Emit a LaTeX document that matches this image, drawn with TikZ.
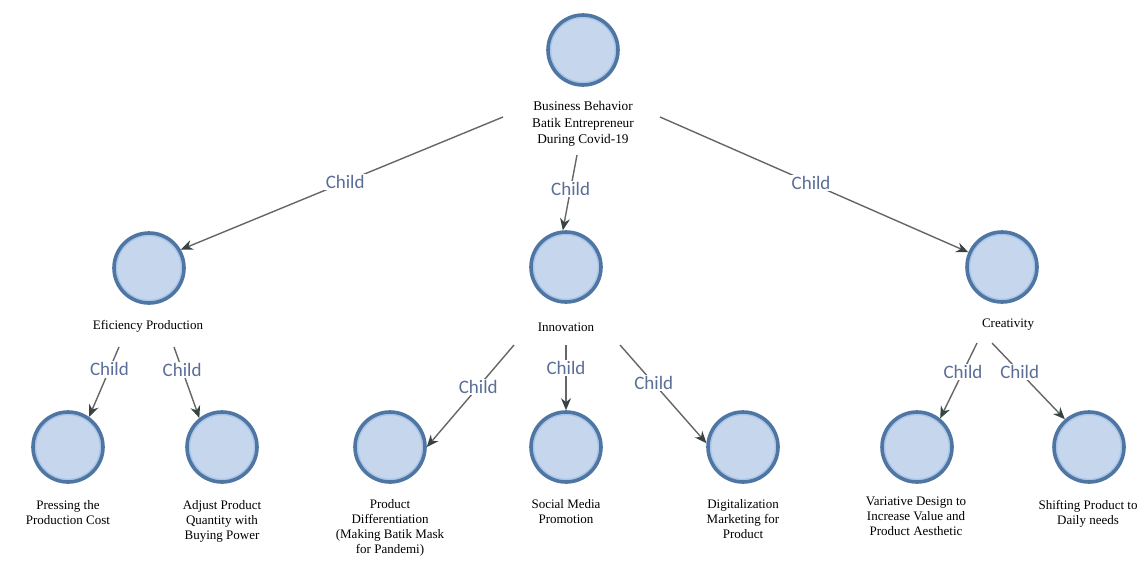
\documentclass[tikz,border=0pt]{standalone}
\usepackage{fontspec}
\setmainfont{Liberation Serif}
\newfontfamily\childfont{Carlito}
\usetikzlibrary{arrows.meta}
\definecolor{circfill}{HTML}{C6D6EC}
\definecolor{circborder}{HTML}{4F76A3}
\definecolor{innerring}{HTML}{A9C6EA}
\definecolor{childblue}{HTML}{5A6E98}
\definecolor{edgegray}{HTML}{666666}
\definecolor{tipgray}{HTML}{374444}
\tikzset{
  circ/.style={circle, minimum size=70pt, inner sep=0pt, draw=circborder, line width=3.6pt, fill=circfill,
    path picture={\draw[innerring, line width=1.4pt] (path picture bounding box.center) circle (32.4pt);}},
  lbl/.style={font=\fontsize{13}{15}\selectfont, align=center, inner sep=0pt},
  toplbl/.style={font=\fontsize{13.3}{16.5}\selectfont, align=center, inner sep=0pt},
  edge/.style={draw=edgegray, line width=1.4pt, -{Stealth[length=12pt,width=10pt,color=tipgray]}},
  childlbl/.style={font=\childfont\fontsize{19}{19}\selectfont, text=childblue, fill=white, inner sep=1.5pt}
}
\begin{document}
\begin{tikzpicture}[x=1pt,y=-1pt]
\useasboundingbox (0,0) rectangle (1147,563);
% circles
\node[circ] (root) at (583,50) {};
\node[circ] (eff) at (149,268) {};
\node[circ] (inn) at (566,267) {};
\node[circ] (cre) at (1002,267) {};
\node[circ] (press) at (68,447) {};
\node[circ] (adj) at (222,447) {};
\node[circ] (pdiff) at (390,447) {};
\node[circ] (soc) at (566,447) {};
\node[circ] (dig) at (743,447) {};
\node[circ] (var) at (917,447) {};
\node[circ] (shift) at (1089,447) {};
% labels
\node[toplbl] (roott) at (583,124) {Business Behavior\\Batik Entrepreneur\\During Covid-19};
\node[lbl] (efft) at (148,326) {Eficiency Production};
\node[lbl] (innt) at (566,327) {Innovation};
\node[lbl] (cret) at (1008,325) {Creativity};
\node[lbl, anchor=north] (presst) at (68,500) {Pressing the\\Production Cost};
\node[lbl, anchor=north] (adjt) at (222,500) {Adjust Product\\Quantity with\\Buying Power};
\node[lbl, anchor=north] (pdifft) at (390,499) {Product\\Differentiation\\(Making Batik Mask\\for Pandemi)};
\node[lbl, anchor=north] (soct) at (566,499) {Social Media\\Promotion};
\node[lbl, anchor=north] (digt) at (743,499) {Digitalization\\Marketing for\\Product};
\node[lbl, anchor=north] (vart) at (916,497) {Variative Design to\\Increase Value and\\Product Aesthetic};
\node[lbl, anchor=north] (shiftt) at (1088,500) {Shifting Product to\\Daily needs};
% connector start points
\coordinate (s1) at (503,117);
\coordinate (s2) at (577,155);
\coordinate (s3) at (660,117);
\coordinate (s4) at (119,347);
\coordinate (s5) at (174,347);
\coordinate (s6) at (514,345);
\coordinate (s7) at (566,345);
\coordinate (s8) at (620,345);
\coordinate (s9) at (977,343);
\coordinate (s10) at (992,343);
% connectors
\draw[edge] (s1) -- node[childlbl, pos=0.49] {Child} (eff.30);
\draw[edge] (s2) -- node[childlbl, pos=0.45] {Child} (inn.95);
\draw[edge] (s3) -- node[childlbl, pos=0.49] {Child} (cre);
\draw[edge] (s4) -- node[childlbl, pos=0.32] {Child} (press.55);
\draw[edge] (s5) -- node[childlbl, pos=0.32] {Child} (adj.128);
\draw[edge] (s6) -- node[childlbl, pos=0.41] {Child} (pdiff.east);
\draw[edge] (s7) -- node[childlbl, pos=0.35] {Child} (soc.north);
\draw[edge] (s8) -- node[childlbl, pos=0.39] {Child} (dig.174);
\draw[edge] (s9) -- node[childlbl, pos=0.38] {Child} (var.51);
\draw[edge] (s10) -- node[childlbl, pos=0.38] {Child} (shift.131);
\end{tikzpicture}
\end{document}
